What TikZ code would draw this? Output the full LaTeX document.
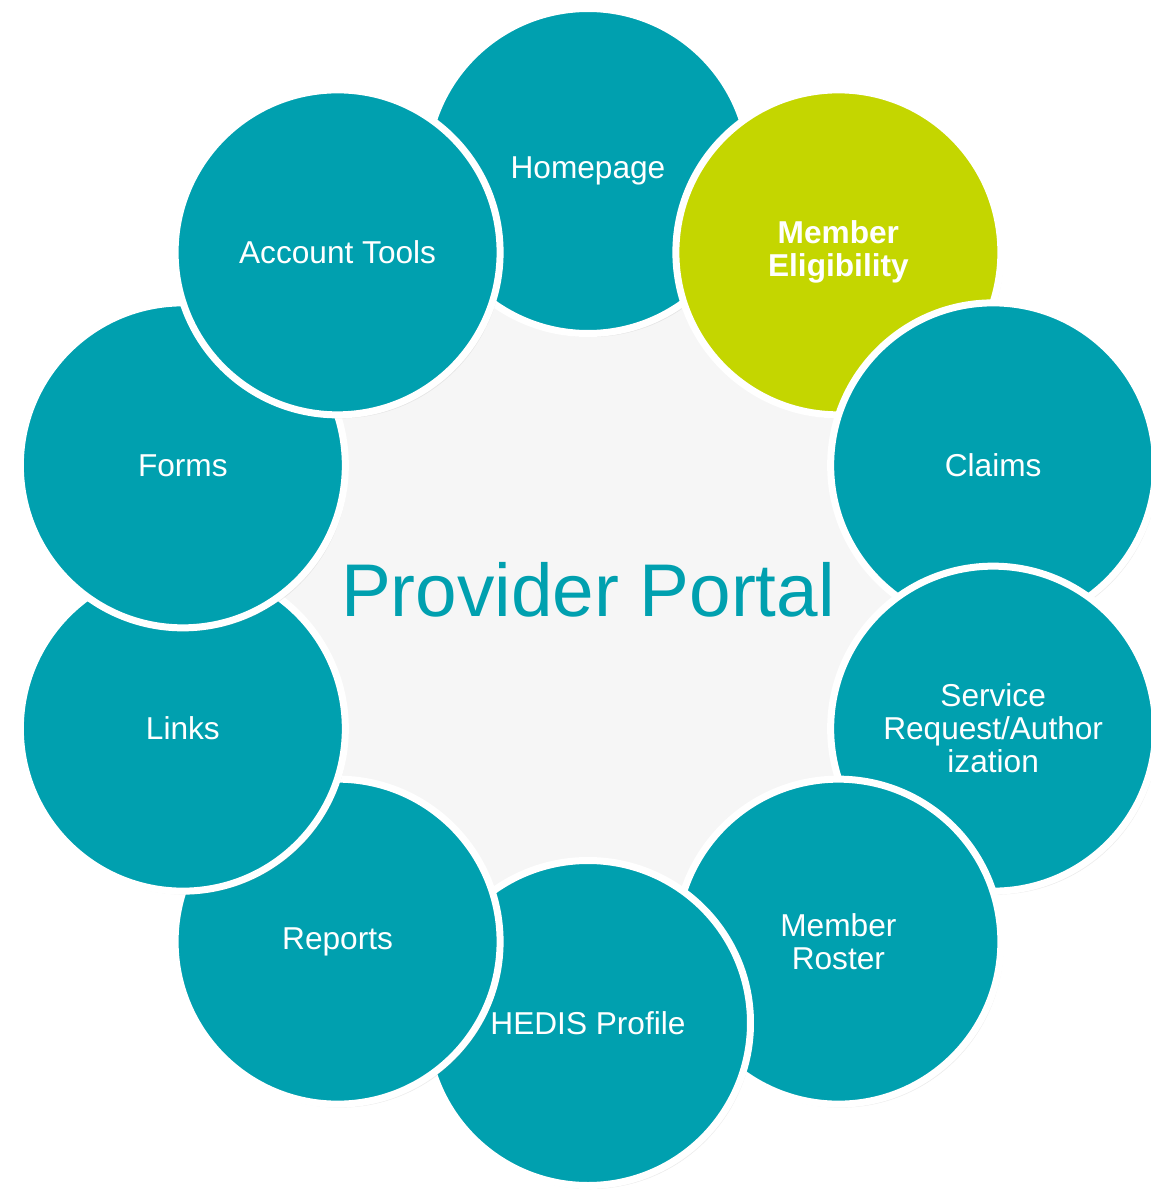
\documentclass[tikz,border=0pt]{standalone}
\usepackage{fontspec}
\setmainfont{Liberation Sans}
\usetikzlibrary{shadows}
\definecolor{portalteal}{RGB}{0,160,175}
\definecolor{portallime}{RGB}{196,214,0}
\definecolor{portalgray}{RGB}{246,246,246}
\begin{document}
\begin{tikzpicture}[petal/.style = {circle, draw=white, line width=1.4mm, fill=portalteal, minimum size=65mm, inner sep=0pt, drop shadow={opacity=0.15, shadow xshift=0.5mm, shadow yshift=-0.7mm}},
	tag/.style = {text=white, align=center, font=\fontsize{18}{18.8}\selectfont},
	hub/.style = {circle, fill=portalgray, minimum size=136mm, inner sep=0pt}]

	\useasboundingbox (-11.76,-11.92) rectangle (11.26,11.94);

	\node[hub] (hub) at (0,0) {};

	% outer ring, later ones lie on top
	\node[petal] (home) at (90:8.52) {};
	\node[petal, fill=portallime] (elig) at (54:8.52) {};
	\node[petal] (claims) at (18:8.52) {};
	\node[petal] (auth) at (-18:8.52) {};
	\node[petal] (roster) at (-54:8.52) {};
	\node[petal] (hedis) at (-90:8.52) {};
	\node[petal] (reports) at (-126:8.52) {};
	\node[petal] (links) at (-162:8.52) {};
	\node[petal] (forms) at (162:8.52) {};
	\node[petal] (account) at (126:8.52) {};

	\node[tag] (t-home) at (home) {Homepage};
	\node[tag, font=\fontsize{18}{18.8}\selectfont\bfseries] (t-elig) at (elig) {Member\\Eligibility};
	\node[tag] (t-claims) at (claims) {Claims};
	\node[tag] (t-auth) at (auth) {Service\\Request/Author\\ization};
	\node[tag] (t-roster) at (roster) {Member\\Roster};
	\node[tag] (t-hedis) at (hedis) {HEDIS Profile};
	\node[tag] (t-reports) at (reports) {Reports};
	\node[tag] (t-links) at (links) {Links};
	\node[tag] (t-forms) at (forms) {Forms};
	\node[tag] (t-account) at (account) {Account Tools};

	\node[text=portalteal, font=\fontsize{42.5}{46}\selectfont] (title) at (0,0.14) {Provider Portal};
\end{tikzpicture}
\end{document}
